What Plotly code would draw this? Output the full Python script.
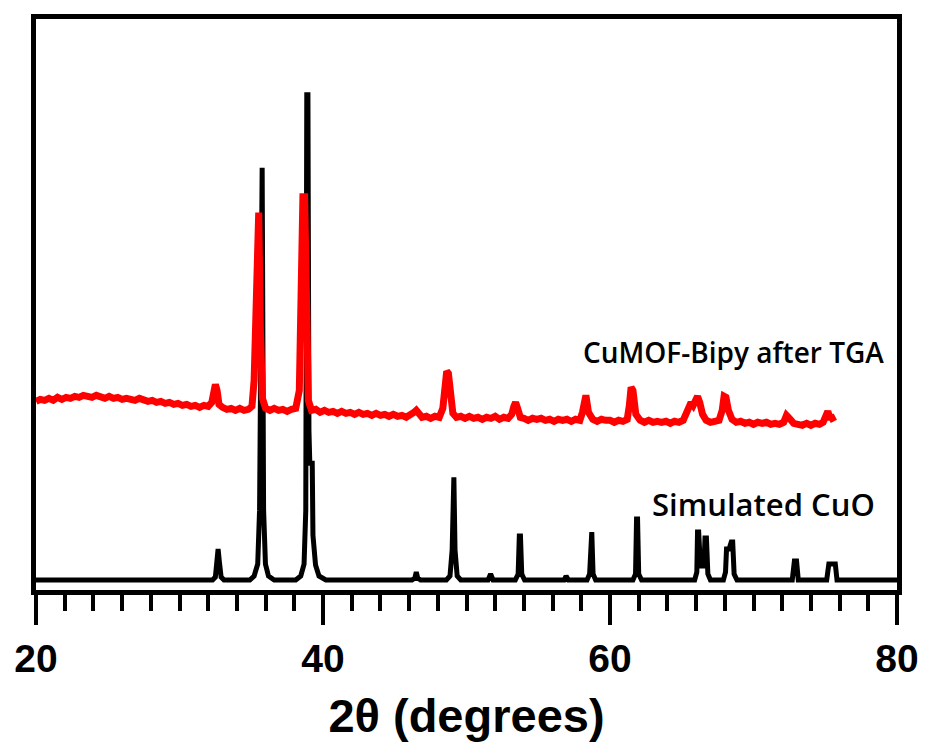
import plotly.graph_objects as go

# Simulated CuO pattern (2θ in degrees, intensity in arbitrary units)
sim_x = [20.0, 32.3, 32.5, 32.6, 32.69, 32.78, 32.9, 33.1,
         34.9, 35.2, 35.45, 35.58, 35.68, 35.76, 35.86, 35.99, 36.2, 36.6,
         38.1, 38.45, 38.68, 38.8, 38.87, 38.95, 39.02, 39.08, 39.25, 39.3, 39.48, 39.72, 40.2,
         46.2, 46.4, 46.5, 46.6, 46.8,
         48.6, 48.85, 49.0, 49.05, 49.12, 49.2, 49.35, 49.6,
         51.5, 51.68, 51.85,
         53.4, 53.6, 53.68, 53.76, 53.85, 54.05,
         56.8, 56.94, 57.1,
         58.4, 58.58, 58.65, 58.73, 58.82, 59.0,
         61.6, 61.78, 61.85, 61.92, 62.0, 62.2,
         65.9, 66.05, 66.1, 66.18, 66.3, 66.55, 66.62, 66.72, 66.82, 67.0,
         67.9, 68.05, 68.12, 68.3, 68.45, 68.55, 68.65, 68.85,
         72.7, 72.85, 73.0, 73.12,
         75.1, 75.25, 75.7, 75.82,
         80.0]
sim_y = [0, 0, 3, 18, 31, 18, 3, 0,
         0, 4, 16, 70, 413, 413, 70, 16, 4, 0,
         0, 4, 16, 70, 486, 486, 150, 117, 117, 45, 15, 4, 0,
         0, 2, 8, 2, 0,
         0, 4, 30, 103, 103, 30, 4, 0,
         0, 6, 0,
         0, 6, 44, 44, 6, 0,
         0, 4, 0,
         0, 6, 48, 48, 6, 0,
         0, 6, 61, 61, 6, 0,
         0, 8, 48, 48, 14, 14, 42, 42, 6, 0,
         0, 8, 31, 31, 38, 38, 6, 0,
         0, 19, 19, 0,
         0, 16, 16, 0,
         0]

# CuMOF-Bipy after TGA (offset trace, noisy measured pattern)
exp_x = [20.0, 20.3, 20.6, 20.9, 21.2, 21.5, 21.8, 22.1, 22.4, 22.7, 23.0, 23.3, 23.6, 23.9,
         24.2, 24.5, 24.8, 25.1, 25.4, 25.7, 26.0, 26.3, 26.6, 26.9, 27.2, 27.5, 27.8,
         28.1, 28.4, 28.7, 29.0, 29.3, 29.6, 29.9, 30.2, 30.5, 30.8, 31.1, 31.4, 31.7, 32.0,
         32.25, 32.38, 32.5, 32.62, 32.75, 33.0, 33.3, 33.6, 33.9, 34.2, 34.5, 34.8, 35.05,
         35.2, 35.32, 35.42, 35.52, 35.64, 35.78, 36.0, 36.3, 36.6, 36.9, 37.2, 37.5, 37.8, 38.1,
         38.35, 38.48, 38.6, 38.72, 38.84, 38.98, 39.2, 39.5, 39.8, 40.1, 40.4, 40.7, 41.0,
         41.3, 41.6, 41.9, 42.2, 42.5, 42.8, 43.1, 43.4, 43.7, 44.0, 44.3, 44.6, 44.9,
         45.2, 45.5, 45.8, 46.1, 46.35, 46.5, 46.65, 46.9, 47.2, 47.5, 47.8, 48.1, 48.35,
         48.5, 48.62, 48.74, 48.88, 49.05, 49.3, 49.6, 49.9, 50.2, 50.5, 50.8, 51.1, 51.4,
         51.7, 52.0, 52.3, 52.6, 52.9, 53.15, 53.3, 53.42, 53.56, 53.75, 54.0, 54.3, 54.6,
         54.9, 55.2, 55.5, 55.8, 56.1, 56.4, 56.7, 57.0, 57.3, 57.6, 57.9, 58.08, 58.2,
         58.32, 58.5, 58.8, 59.1, 59.4, 59.7, 60.0, 60.3, 60.6, 60.9, 61.2, 61.35, 61.47,
         61.6, 61.8, 62.1, 62.4, 62.7, 63.0, 63.3, 63.6, 63.9, 64.2, 64.5, 64.8, 65.1,
         65.35, 65.5, 65.65, 65.8, 65.95, 66.1, 66.25, 66.45, 66.7, 67.0, 67.3, 67.6,
         67.82, 67.95, 68.08, 68.25, 68.5, 68.8, 69.1, 69.4, 69.7, 70.0, 70.3, 70.6,
         70.9, 71.2, 71.5, 71.8, 72.1, 72.3, 72.5, 72.8, 73.1, 73.4, 73.7, 74.0, 74.3,
         74.6, 74.85, 75.05, 75.18, 75.3, 75.45, 75.6]
exp_y = [179, 181, 180, 182, 180, 183, 181, 183, 182, 184, 183, 185, 184, 183,
         185, 183, 182, 184, 182, 183, 181, 182, 181, 180, 182, 180, 179,
         180, 178, 179, 177, 178, 176, 177, 175, 176, 174, 175, 173, 175, 174,
         178, 192, 196, 190, 176, 173, 171, 172, 170, 172, 170, 171, 174,
         200, 300, 368, 368, 250, 182, 172, 170, 172, 170, 171, 169, 171, 172,
         190, 300, 384, 384, 250, 180, 170, 171, 168, 170, 168, 169, 167,
         169, 167, 168, 166, 168, 166, 167, 165, 167, 165, 166, 164, 166,
         164, 165, 163, 165, 168, 170, 166, 163, 164, 162, 164, 163, 172,
         195, 209, 207, 185, 167, 163, 164, 162, 164, 162, 163, 161, 163,
         162, 164, 161, 163, 162, 166, 174, 178, 172, 163, 162, 160, 162,
         161, 162, 160, 161, 159, 161, 160, 161, 159, 161, 160, 168, 182,
         185, 168, 161, 159, 161, 160, 160, 158, 160, 159, 161, 175, 193,
         190, 166, 160, 158, 160, 158, 159, 158, 159, 157, 159, 158, 160,
         168, 177, 178, 175, 179, 184, 178, 166, 160, 158, 159, 160,
         170, 184, 183, 170, 161, 158, 159, 157, 158, 156, 158, 157,
         158, 156, 157, 156, 158, 165, 162, 157, 156, 155, 157, 155, 157,
         156, 158, 165, 169, 163, 163, 159]

x_tick_vals = [20, 40, 60, 80]
x_tick_text = ["20", "40", "60", "80"]

fig = go.Figure()
fig.add_trace(go.Scatter(x=sim_x, y=sim_y, mode="lines",
                         line=dict(color="black", width=5),
                         hoverinfo="skip", showlegend=False))
fig.add_trace(go.Scatter(x=exp_x, y=exp_y, mode="lines",
                         line=dict(color="#ff0000", width=7),
                         hoverinfo="skip", showlegend=False))

fig.add_annotation(x=68.6, y=228, xref="x", yref="y", text="CuMOF-Bipy after TGA",
                   showarrow=False, font=dict(family="Open Sans", size=28, color="black", weight=600))
fig.add_annotation(x=70.7, y=76, xref="x", yref="y", text="Simulated CuO",
                   showarrow=False, font=dict(family="Open Sans", size=31, color="black", weight=600))

fig.update_layout(
    width=931, height=747,
    margin=dict(l=36, r=25, t=19, b=155),
    plot_bgcolor="white", paper_bgcolor="white",
    xaxis=dict(range=[20, 80], tickvals=x_tick_vals, ticktext=x_tick_text,
               showline=True, linecolor="black", linewidth=5, mirror=True,
               ticks="outside", ticklen=30, tickwidth=4, tickcolor="black",
               minor=dict(dtick=2, ticks="outside", ticklen=16, tickwidth=4, tickcolor="black"),
               showgrid=False, zeroline=False,
               tickfont=dict(family="Liberation Sans", size=39, color="black", weight="bold"),
               title=dict(text="2θ (degrees)", standoff=22,
                          font=dict(family="Liberation Sans", size=47, color="black", weight="bold"))),
    yaxis=dict(range=[-10, 562], showline=True, linecolor="black", linewidth=5, mirror=True,
               showticklabels=False, ticks="", showgrid=False, zeroline=False),
)

fig.write_html("out.html")
